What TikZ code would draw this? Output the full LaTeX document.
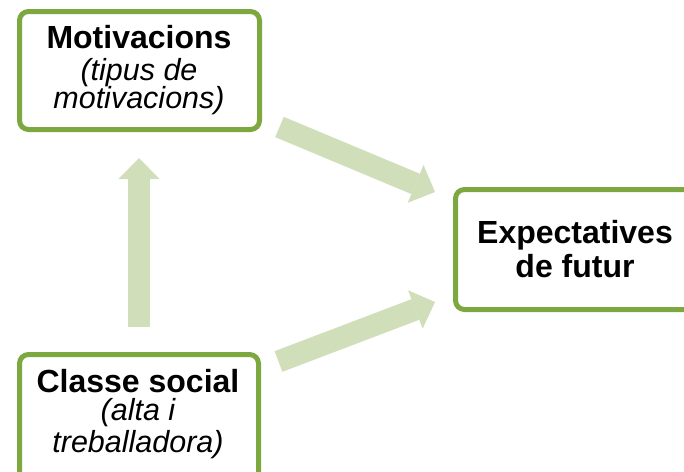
\documentclass[tikz,border=0pt]{standalone}
\usepackage{fontspec}
\setmainfont{Liberation Sans}
\usetikzlibrary{arrows.meta}
\definecolor{boxgreen}{RGB}{125,168,64}
\definecolor{arrowgreen}{RGB}{208,222,186}
\tikzset{
  greenbox/.style={draw=boxgreen, line width=5pt, rounded corners=9pt, fill=white},
  titletext/.style={font=\fontsize{32}{32}\selectfont\bfseries, inner sep=0pt, anchor=base},
  subtext/.style={font=\fontsize{30.5}{30.5}\selectfont\itshape, inner sep=0pt, anchor=base},
  blockarrow/.style={draw=arrowgreen, line width=22pt,
    -{Triangle[width=41pt,length=21pt,line width=0pt]}}
}
\begin{document}
\begin{tikzpicture}[x=1pt,y=-1pt]
\useasboundingbox (0,0) rectangle (684,471);
\clip (0,0) rectangle (684,471);
% boxes
\draw[greenbox] (19.5,11.5) rectangle (259.5,129.5);
\draw[greenbox] (455.5,189.5) rectangle (710,309.5);
\draw[greenbox] (19.5,354.5) rectangle (258.5,500);
% text
\node[titletext] (mot) at (139,48) {Motivacions};
\node[subtext] (mot2) at (139,80) {(tipus de};
\node[subtext] (mot3) at (139,108) {motivacions)};
\node[titletext] (exp) at (575,243) {Expectatives};
\node[titletext] (exp2) at (575,277) {de futur};
\node[titletext] (cls) at (138,392) {Classe social};
\node[subtext] (cls2) at (138,420) {(alta i};
\node[subtext] (cls3) at (138,452) {treballadora)};
% arrow ends
\coordinate (upTail) at (139,327);
\coordinate (upTip) at (139,158);
\coordinate (d1Tail) at (279.5,127);
\coordinate (d1Tip) at (435,192);
\coordinate (d2Tail) at (278.5,361.5);
\coordinate (d2Tip) at (435,302);
\draw[blockarrow] (upTail) -- (upTip);
\draw[blockarrow] (d1Tail) -- (d1Tip);
\draw[blockarrow] (d2Tail) -- (d2Tip);
\end{tikzpicture}
\end{document}
